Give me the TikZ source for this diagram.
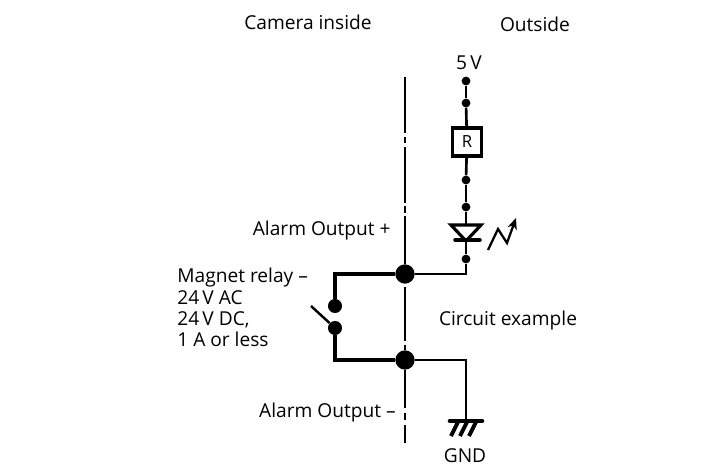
\documentclass[tikz,border=0pt]{standalone}
\usepackage{fontspec}
\setmainfont{Open Sans}
\usetikzlibrary{arrows.meta}
\tikzset{
  wire/.style={line width=1.5pt},
  heavywire/.style={line width=2.3pt},
  divider/.style={line width=1.6pt},
  smalldot/.style={circle,fill=black,inner sep=0pt,minimum size=5pt},
  relaydot/.style={circle,fill=black,inner sep=0pt,minimum size=8pt},
  bigdot/.style={circle,fill=black,inner sep=0pt,minimum size=11pt},
  label/.style={font=\fontsize{10.9}{12}\selectfont,inner sep=0pt},
  resistor/.style={draw,line width=2pt,fill=white,minimum width=16.5pt,minimum height=16pt,inner sep=0pt,font=\fontsize{9.5}{9.5}\selectfont}
}
\begin{document}
\begin{tikzpicture}[x=0.02cm,y=-0.02cm]
        \useasboundingbox (0,0) rectangle (711,474);

        % Headings
        \node[label] (inside) at (308,22) {Camera inside};
        \node[label] (outside) at (535,24) {Outside};

        % Main junctions and dots
        \node[bigdot] (top) at (405,274) {};
        \node[bigdot] (bottom) at (405,360) {};
        \node[smalldot] (supply) at (466,81) {};
        \node[smalldot] (d1) at (466,103) {};
        \node[resistor] (res) at (467,142) {R};
        \node[smalldot] (d2) at (466,180) {};
        \node[smalldot] (d3) at (466,207) {};
        \node[smalldot] (d4) at (466,259) {};
        \node[relaydot] (contactA) at (335,306) {};
        \node[relaydot] (contactB) at (335,328) {};

        % Divider with gaps
        \coordinate (v0) at (405,77);
        \coordinate (v1) at (405,133);
        \coordinate (v2) at (405,137);
        \coordinate (v3) at (405,143);
        \coordinate (v4) at (405,147);
        \coordinate (v5) at (405,203);
        \coordinate (v6) at (405,206);
        \coordinate (v7) at (405,213);
        \coordinate (v8) at (405,216);
        \coordinate (v9) at (405,287);
        \coordinate (v10) at (405,341);
        \coordinate (v11) at (405,345);
        \coordinate (v12) at (405,350);
        \coordinate (v13) at (405,408);
        \coordinate (v14) at (405,413);
        \coordinate (v15) at (405,420);
        \coordinate (v16) at (405,425);
        \coordinate (v17) at (405,443);
        \draw[divider] (v0) -- (v1);
        \draw[divider] (v2) -- (v3);
        \draw[divider] (v4) -- (v5);
        \draw[divider] (v6) -- (v7);
        \draw[divider] (v8) -- (top);
        \draw[divider] (v9) -- (v10);
        \draw[divider] (v11) -- (v12);
        \draw[divider] (bottom) -- (v13);
        \draw[divider] (v14) -- (v15);
        \draw[divider] (v16) -- (v17);

        % Supply branch
        \node[label] (five) at (469,63) {5\,V};
        \coordinate (ledtop) at (466,224);
        \coordinate (ledtip) at (466,241);
        \draw[wire] (supply) -- (d1);
        \draw[wire] (d1) -- (res);
        \draw[wire] (res) -- (d2);
        \draw[wire] (d2) -- (d3);
        \draw[wire] (d3) -- (ledtop);
        \draw[wire] (ledtip) -- (d4);
        \draw[wire] (d4) |- (top);

        % LED
        \draw[line width=1.8pt,line join=miter] (451,225) -- (481,225) -- (ledtip) -- cycle;
        \draw[line width=2pt,line cap=round] (455,240) -- (480,240);
        \draw[line width=1.3pt,-{Stealth[length=6.5pt,width=5.5pt]}] (488,250) -- (498,229) -- (507,243) -- (516,218);

        % Relay contact
        \draw[heavywire] (top) -| (contactA);
        \draw[heavywire] (bottom) -| (contactB);
        \coordinate (lever) at (311,306);
        \draw[line width=1.4pt] (lever) -- (contactB);

        % Ground
        \coordinate (gnd) at (466,421);
        \draw[wire] (bottom) -| (gnd);
        \draw[line width=2.6pt,line cap=round] (450,421) -- (482,421);
        \foreach \gx in {458,467,476} {
            \draw[line width=2.2pt] (\gx,422) -- (\gx-7,436);
        }
        \node[label] (gndtext) at (465,456) {GND};

        % Side labels
        \node[label,anchor=east] (plus) at (391,231) {Alarm Output +};
        \node[label,anchor=east] (minus) at (396,413) {Alarm Output --};
        \node[label,anchor=north west,align=left,font=\fontsize{10.9}{12.1}\selectfont] (relay) at (177,268) {Magnet relay --\\24\,V AC\\24\,V DC,\\1 A or less};
        \node[label] (example) at (508,321) {Circuit example};
\end{tikzpicture}
\end{document}
